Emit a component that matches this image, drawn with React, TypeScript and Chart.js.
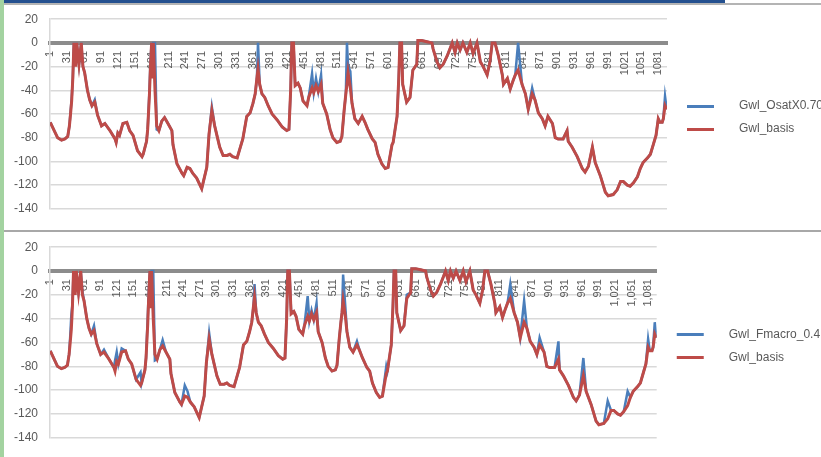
import React, { useEffect, useRef } from "react";
import { Chart, registerables } from "chart.js";

Chart.register(...registerables);

// ---- data (time-step index, groundwater level) ----
const sampleIndex = [
  1, 9, 14, 21, 27, 32, 35, 37, 39, 41, 43, 46, 48, 52, 56, 59, 62, 67, 71, 75,
  80, 85, 92, 98, 107, 116, 118, 121, 124, 130, 137, 142, 148, 156, 164, 166, 172, 174, 177, 179,
  181, 183, 184, 187, 190, 194, 199, 204, 210, 217, 219, 226, 235, 238, 244, 249, 254, 261, 270, 279,
  283, 288, 293, 302, 308, 315, 320, 325, 333, 338, 343, 350, 356, 361, 365, 368, 370, 373, 377, 382,
  388, 395, 404, 413, 421, 425, 428, 430, 433, 436, 441, 445, 450, 457, 460, 466, 469, 473, 477, 482,
  485, 492, 498, 503, 510, 516, 519, 523, 526, 528, 530, 534, 537, 542, 548, 555, 560, 565, 573, 578,
  583, 590, 596, 601, 608, 610, 617, 620, 622, 625, 627, 634, 640, 645, 652, 654, 661, 670, 679, 681,
  688, 693, 699, 706, 711, 715, 720, 724, 729, 734, 741, 747, 752, 759, 765, 770, 777, 782, 786, 791,
  797, 804, 806, 813, 818, 823, 827, 832, 839, 845, 850, 857, 862, 868, 875, 880, 885, 893, 898, 903,
  912, 919, 921, 928, 937, 946, 951, 957, 964, 969, 978, 987, 992, 1001, 1008, 1014, 1019, 1026, 1031, 1037,
  1044, 1049, 1054, 1062, 1067, 1072, 1077, 1081, 1084, 1088, 1090, 1093, 1096,
];

const gwlBasis = [
  -67, -75, -80, -82, -81, -79, -70, -60, -49, -30, 0, -20, 0, -18, 0, -20, -25, -40, -48, -53,
  -50, -61, -70, -68, -74, -81, -84, -76, -78, -68, -67, -74, -78, -91, -96, -94, -83, -73, -45, -20,
  0, -30, 0, -40, -70, -74, -66, -63, -68, -74, -86, -102, -110, -112, -105, -106, -110, -114, -123, -105,
  -77, -57, -70, -88, -95, -95, -94, -96, -97, -89, -81, -62, -59, -51, -43, -30, -22, -35, -43, -46,
  -53, -60, -65, -71, -74, -73, -40, 0, 0, -36, -34, -38, -49, -53, -46, -38, -42, -36, -41, -35,
  -51, -60, -73, -80, -84, -83, -79, -57, -43, -35, -25, -38, -51, -64, -68, -62, -67, -73, -81, -84,
  -94, -102, -106, -105, -86, -84, -62, -30, 0, 0, -35, -50, -46, -23, -18, 2, 2, 1, 0, -5,
  -16, -21, -18, -11, -5, 0, -8, 0, -6, 0, -8, 0, -9, 0, -16, -20, -27, -16, 0, 0,
  -11, -27, -35, -30, -39, -32, -27, -23, -35, -43, -56, -43, -48, -59, -64, -70, -62, -68, -80, -81,
  -81, -74, -83, -88, -96, -106, -109, -104, -88, -101, -112, -126, -129, -128, -124, -117, -117, -120, -121, -118,
  -113, -106, -101, -97, -94, -86, -78, -64, -67, -67, -64, -53, -56,
];

const gwlOsatX070 = [
  -67, -75, -80, -82, -81, -79, -70, -58, -47, -30, 0, -18, 0, -18, 0, -20, -25, -40, -48, -53,
  -48, -61, -70, -68, -74, -81, -84, -76, -78, -68, -67, -74, -78, -91, -96, -94, -83, -73, -42, -15,
  0, -25, 0, 0, -73, -74, -66, -63, -68, -74, -86, -102, -110, -112, -105, -106, -110, -114, -123, -105,
  -77, -54, -70, -88, -95, -95, -94, -96, -97, -89, -81, -62, -59, -51, -43, -30, 0, -35, -43, -46,
  -53, -60, -65, -71, -74, -73, -40, 0, 0, -36, -34, -38, -49, -53, -46, -26, -42, -30, -41, -27,
  -51, -60, -73, -80, -84, -83, -79, -57, -43, 0, -20, -24, -51, -64, -68, -62, -67, -73, -81, -84,
  -94, -102, -106, -105, -86, -84, -62, -30, 0, 0, -35, -50, -46, -23, -18, 2, 2, 1, 0, -5,
  -16, -21, -18, -11, -5, 0, -8, 0, -6, 0, -8, 0, -9, 0, -16, -20, -27, -16, 0, 0,
  -11, -27, -35, -30, -39, -32, -27, 0, -35, -43, -56, -38, -48, -59, -64, -70, -62, -68, -80, -81,
  -81, -74, -83, -88, -96, -106, -109, -104, -88, -101, -112, -126, -129, -128, -124, -117, -117, -120, -121, -118,
  -113, -106, -101, -97, -94, -86, -78, -64, -67, -67, -64, -45, -56,
];

const gwlFmacro04 = [
  -67, -75, -80, -82, -81, -79, -70, -55, -37, -28, 0, -18, 0, -18, 0, -17, -25, -40, -48, -53,
  -46, -61, -70, -66, -74, -81, -75, -68, -78, -65, -67, -74, -78, -91, -85, -94, -83, -73, -40, -15,
  0, -25, 0, 0, -75, -74, -66, -58, -68, -74, -86, -102, -110, -112, -96, -101, -110, -114, -123, -105,
  -77, -52, -70, -88, -95, -95, -94, -96, -97, -89, -81, -62, -59, -51, -43, -30, -11, -35, -43, -46,
  -53, -60, -65, -71, -74, -73, -40, 0, 0, -33, -34, -38, -49, -53, -46, -21, -42, -33, -41, -27,
  -51, -60, -73, -80, -84, -83, -79, -57, -43, -35, -3, -30, -51, -64, -68, -59, -67, -73, -81, -84,
  -94, -102, -106, -105, -80, -84, -62, -30, 0, 0, -35, -50, -46, -20, -18, 2, 2, 1, 0, -5,
  -16, -21, -18, -11, -5, 0, -8, 0, -6, 0, -8, 0, -9, 0, -16, -20, -27, -16, 0, 0,
  -11, -27, -35, -30, -39, -32, -27, -11, -35, -43, -56, -25, -48, -59, -64, -70, -56, -68, -80, -81,
  -81, -59, -83, -88, -96, -106, -109, -104, -73, -101, -112, -126, -129, -128, -109, -117, -117, -120, -121, -118,
  -101, -106, -101, -97, -94, -86, -78, -57, -67, -67, -64, -43, -56,
];

const xTickValues = [
  1, 31, 61, 91, 121, 151, 181, 211, 241, 271, 301, 331, 361, 391, 421, 451, 481, 511, 541,
  571, 601, 631, 661, 691, 721, 751, 781, 811, 841, 871, 901, 931, 961, 991, 1021, 1051, 1081,
];

const yMin = -140;
const yMax = 20;
const yStep = 20;

const basisLabel = "Gwl_basis";
const topBlueLabel = "Gwl_OsatX0.70";
const bottomBlueLabel = "Gwl_Fmacro_0.4";

// ---- styles ----
const BLUE = "#4a7ebb";
const RED = "#be4b48";
const TEXT = "#595959";
const GRID = "#d9d9d9";
const FONT = "'Liberation Sans', Arial, sans-serif";

function legendLine(color: string) {
  const c = document.createElement("canvas");
  c.width = 55;
  c.height = 3;
  const g = c.getContext("2d")!;
  g.fillStyle = color;
  g.fillRect(9, 0, 27, 3);
  return c;
}

type Props = {
  blueLabel: string;
  blueValues: number[];
  comma: boolean;
  legendWidth: number;
  height: number;
  padTop: number;
  padBottom: number;
};

function GwlChart({ blueLabel, blueValues, comma, legendWidth, height, padTop, padBottom }: Props) {
  const ref = useRef<HTMLCanvasElement>(null);

  useEffect(() => {
    const canvas = ref.current!;
    const toPts = (vals: number[]) => sampleIndex.map((x, i) => ({ x, y: vals[i] }));
    const chart = new Chart(canvas, {
      type: "line",
      data: {
        datasets: [
          {
            label: blueLabel,
            data: toPts(blueValues),
            borderColor: BLUE,
            backgroundColor: BLUE,
            borderWidth: 2.5,
            pointRadius: 0,
            pointStyle: legendLine(BLUE) as any,
            tension: 0,
            order: 1,
          },
          {
            label: basisLabel,
            data: toPts(gwlBasis),
            borderColor: RED,
            backgroundColor: RED,
            borderWidth: 3,
            pointRadius: 0,
            pointStyle: legendLine(RED) as any,
            tension: 0,
            order: 0,
          },
        ],
      },
      options: {
        responsive: false,
        animation: false,
        events: [],
        layout: { padding: { top: padTop, bottom: padBottom, left: 0, right: 0 } },
        plugins: {
          legend: {
            position: "right",
            maxWidth: legendWidth,
            labels: {
              usePointStyle: true,
              pointStyleWidth: 55,
              padding: 11,
              color: TEXT,
              font: { family: FONT, size: 12 },
              sort: (a: any, b: any) => a.datasetIndex - b.datasetIndex,
            },
          },
          tooltip: { enabled: false },
          title: { display: false },
        },
        scales: {
          x: {
            type: "linear",
            position: { y: 0 } as any,
            min: 0.5,
            max: 1096.5,
            bounds: "data",
            afterBuildTicks: (s: any) => {
              s.ticks = xTickValues.map((v) => ({ value: v }));
            },
            grid: { display: false, drawTicks: false },
            border: { display: true, color: "#8c8c8c", width: 4 },
            ticks: {
              autoSkip: false,
              maxRotation: 90,
              minRotation: 90,
              padding: 8,
              color: TEXT,
              font: { family: FONT, size: 11 },
              callback: (v: any) => (comma ? Number(v).toLocaleString("en-US") : String(v)),
            },
          },
          y: {
            type: "linear",
            min: yMin,
            max: yMax,
            afterFit: (s: any) => {
              s.width = 50;
            },
            grid: {
              color: (ctx: any) => (ctx.tick && ctx.tick.value === 0 ? "rgba(0,0,0,0)" : GRID),
              lineWidth: 1.5,
              drawTicks: false,
            },
            border: { display: true, color: GRID, width: 1.5 },
            ticks: {
              stepSize: yStep,
              padding: 12,
              color: TEXT,
              font: { family: FONT, size: 12 },
            },
          },
        },
      },
    });
    return () => chart.destroy();
  }, []);

  return (
    <canvas
      ref={ref}
      width={821}
      height={height}
      style={{ display: "block", width: 821, height }}
    />
  );
}

export default function App() {
  return (
    <div
      style={{
        position: "fixed",
        left: 0,
        top: 0,
        width: 821,
        height: 457,
        background: "#ffffff",
        overflow: "hidden",
      }}
    >
      <div style={{ position: "absolute", left: 0, top: 0, width: 821, height: 228 }}>
        <GwlChart
          blueLabel={topBlueLabel}
          blueValues={gwlOsatX070}
          comma={false}
          legendWidth={154}
          height={228}
          padTop={18.3}
          padBottom={11.3}
        />
      </div>
      <div style={{ position: "absolute", left: 0, top: 228, width: 821, height: 229 }}>
        <GwlChart
          blueLabel={bottomBlueLabel}
          blueValues={gwlFmacro04}
          comma={true}
          legendWidth={164.3}
          height={229}
          padTop={18.3}
          padBottom={10.7}
        />
      </div>
      {/* window frame decorations */}
      <div style={{ position: "absolute", left: 0, top: 0, width: 4, height: 457, background: "#a3d3a0" }} />
      <div style={{ position: "absolute", left: 4, top: 3, width: 817, height: 2, background: "#b4b4b4" }} />
      <div style={{ position: "absolute", left: 4, top: 0, width: 721, height: 2.5, background: "#24508f" }} />
      <div style={{ position: "absolute", left: 4, top: 229.5, width: 817, height: 2.5, background: "#a8a8a8" }} />
    </div>
  );
}
